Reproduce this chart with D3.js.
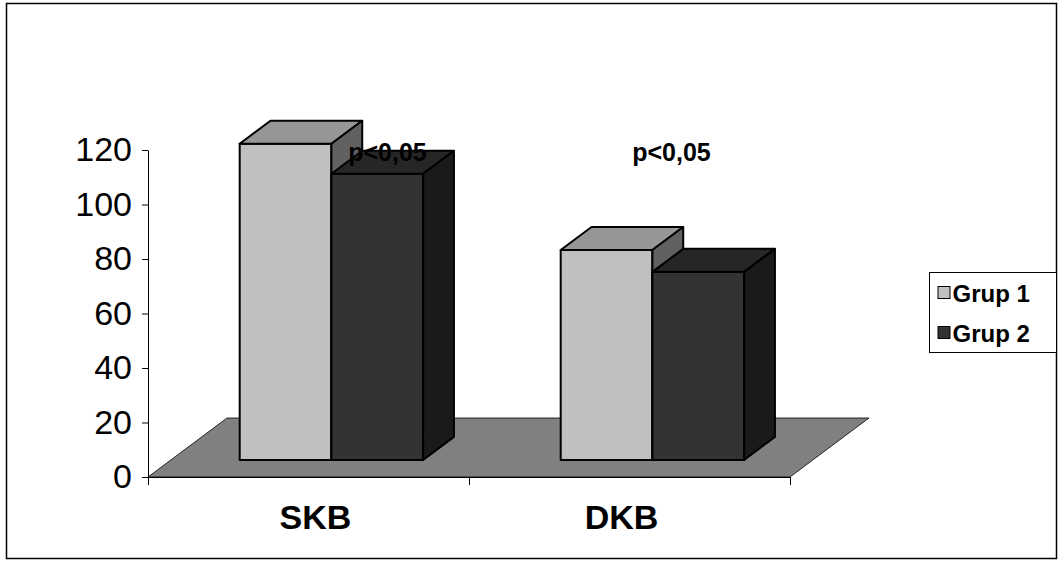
<!DOCTYPE html>
<html>
<head>
<meta charset="utf-8">
<script src="https://cdn.jsdelivr.net/npm/d3@7"></script>
<style>
  html, body { margin: 0; padding: 0; background: #fff; }
  svg { display: block; font-family: "Liberation Sans", Arial, sans-serif; }
</style>
</head>
<body>
<svg id="chart" width="1062" height="565"></svg>
<script>
// Blood pressure by group (SKB = systolic, DKB = diastolic)
const categories = ["SKB", "DKB"];
const seriesNames = ["Grup 1", "Grup 2"];
const grup1Values = [116, 77];
const grup2Values = [105, 69];
const yTicks = [0, 20, 40, 60, 80, 100, 120];
const pLabels = ["p<0,05", "p<0,05"];

const seriesValues = { "Grup 1": grup1Values, "Grup 2": grup2Values };

const svg = d3.select("#chart");

// outer frame
svg.append("rect")
  .attr("x", 6.5).attr("y", 3.5)
  .attr("width", 1050).attr("height", 555)
  .attr("fill", "#fff").attr("stroke", "#000").attr("stroke-width", 1.5);

// front plane of the plot
const x = d3.scaleBand().domain(categories).range([148, 790]).padding(0);
const y = d3.scaleLinear().domain([0, 120]).range([477, 150]);

// oblique depth of the floor (full depth offset)
const depthDX = 79, depthDY = -59;
const barFront = 0.29, barBack = 0.68;   // bar depth as fraction of floor depth

// floor
const floorPts = [
  [x.range()[0], y(0)],
  [x.range()[1], y(0)],
  [x.range()[1] + depthDX, y(0) + depthDY],
  [x.range()[0] + depthDX, y(0) + depthDY]
];
svg.append("polygon")
  .attr("points", floorPts.map(p => p.join(",")).join(" "))
  .attr("fill", "#808080")
  .attr("stroke", "#000").attr("stroke-width", 0.8);

// axes
const yAxis = d3.axisLeft(y).tickValues(yTicks).tickSize(6).tickSizeOuter(0).tickPadding(10);
const gy = svg.append("g").attr("transform", `translate(${x.range()[0]},0)`).call(yAxis);
gy.selectAll("text").attr("font-size", 34).attr("fill", "#000")
  .attr("font-family", "'Liberation Sans', Arial, sans-serif");
gy.selectAll("line").attr("stroke", "#000");
gy.select(".domain").attr("stroke", "#000");

const xLin = d3.scaleLinear().domain([0, categories.length]).range(x.range());
const xAxis = d3.axisBottom(xLin).tickValues(d3.range(categories.length + 1))
  .tickSize(8).tickSizeOuter(0).tickFormat("");
const gx = svg.append("g").attr("transform", `translate(0,${y(0)})`).call(xAxis);
gx.selectAll("line").attr("stroke", "#000");
gx.select(".domain").attr("stroke", "#000");

// category labels
const catLabelShift = [7, -8];
svg.append("g").selectAll("text").data(categories).join("text")
  .attr("x", (d, i) => x(d) + x.bandwidth() / 2 + catLabelShift[i])
  .attr("y", 529)
  .attr("text-anchor", "middle")
  .attr("font-size", 34).attr("font-weight", "bold")
  .text(d => d);

// bars (gap width 150%)
const barW = x.bandwidth() / 3.5;
const inner = d3.scaleBand().domain(seriesNames).range([0, barW * 2]).padding(0);
const colors = {
  "Grup 1": { front: "#c0c0c0", top: "#969696", side: "#616161" },
  "Grup 2": { front: "#333333", top: "#262626", side: "#1a1a1a" }
};
const ox0 = depthDX * barFront, oy0 = depthDY * barFront;
const bdx = depthDX * (barBack - barFront), bdy = depthDY * (barBack - barFront);

const bars = [];
categories.forEach((c, i) => {
  seriesNames.forEach(s => {
    bars.push({ cat: c, series: s, value: seriesValues[s][i] });
  });
});

const gBars = svg.append("g");
bars.forEach(b => {
  const x0 = x(b.cat) + x.bandwidth() / 2 - barW + inner(b.series) + ox0;
  const x1 = x0 + inner.bandwidth();
  const yb = y(0) + oy0;
  const yt = y(b.value) + oy0;
  const col = colors[b.series];
  const g = gBars.append("g")
    .attr("stroke", "#000").attr("stroke-width", 2).attr("stroke-linejoin", "round");
  // front face
  g.append("rect").attr("x", x0).attr("y", yt).attr("width", x1 - x0).attr("height", yb - yt)
    .attr("fill", col.front);
  // top face
  g.append("polygon")
    .attr("points", [[x0, yt], [x1, yt], [x1 + bdx, yt + bdy], [x0 + bdx, yt + bdy]].map(p => p.join(",")).join(" "))
    .attr("fill", col.top);
  // right side face
  g.append("polygon")
    .attr("points", [[x1, yt], [x1 + bdx, yt + bdy], [x1 + bdx, yb + bdy], [x1, yb]].map(p => p.join(",")).join(" "))
    .attr("fill", col.side);
});

// significance labels
svg.append("g").selectAll("text").data(categories).join("text")
  .attr("x", (d, i) => x(d) + x.bandwidth() / 2 + (i === 0 ? 79 : 42))
  .attr("y", 161)
  .attr("text-anchor", "middle")
  .attr("font-size", 25).attr("font-weight", "bold")
  .text((d, i) => pLabels[i]);

// legend
const lg = svg.append("g").attr("transform", "translate(929.5,272.5)");
lg.append("rect").attr("width", 127).attr("height", 80)
  .attr("fill", "#fff").attr("stroke", "#000").attr("stroke-width", 1);
seriesNames.forEach((s, i) => {
  const row = lg.append("g").attr("transform", `translate(0,${21 + i * 40})`);
  row.append("rect").attr("x", 8.5).attr("y", -7).attr("width", 12).attr("height", 12)
    .attr("fill", colors[s].front).attr("stroke", "#000").attr("stroke-width", 1);
  row.append("text").attr("x", 23).attr("y", 8)
    .attr("font-size", 24).attr("font-weight", "bold").text(s);
});
</script>
</body>
</html>
